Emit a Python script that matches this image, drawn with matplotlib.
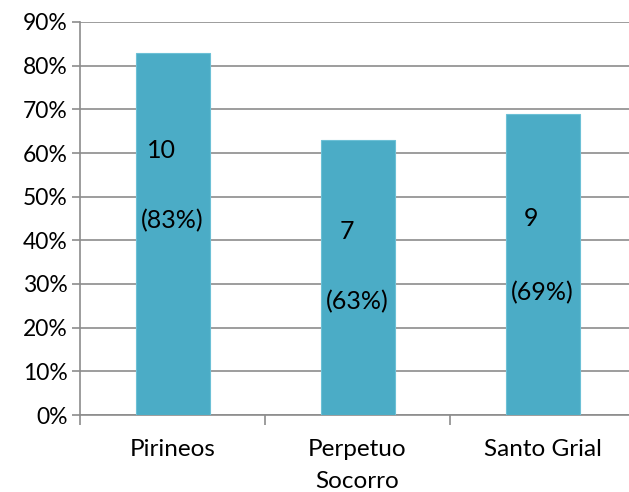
import matplotlib.pyplot as plt
from matplotlib.ticker import PercentFormatter

# datos del grafico
categorias = ['Pirineos', 'Perpetuo\nSocorro', 'Santo Grial']
porcentajes = [83, 63, 69]
cantidades = [10, 7, 9]
# altura (en %) donde va cada etiqueta
etiqueta_num_y = [60.5, 42, 45]
etiqueta_pct_y = [44.5, 26, 28]

plt.rcParams['font.family'] = ['Lato', 'DejaVu Sans']
gris = '#8c8c8c'

fig = plt.figure(figsize=(6.29, 4.92), dpi=100)
ax = fig.add_axes([80 / 629, 77 / 492, 555 / 629, 393 / 492])

x = range(len(categorias))
ax.bar(x, porcentajes, width=0.4, color='#4bacc6', edgecolor='#6cc0d6', linewidth=0.8, zorder=3)

for i in x:
    ax.annotate(str(cantidades[i]), (i, etiqueta_num_y[i]), xytext=(-8, 0), textcoords='offset points',
                ha='center', va='center', fontsize=18, color='black', zorder=4)
    ax.text(i, etiqueta_pct_y[i], f'({porcentajes[i]}%)', ha='center', va='center',
            fontsize=18, color='black', zorder=4)

ax.set_xlim(-0.5, 2.5)
ax.set_ylim(0, 90)
ax.set_yticks(range(0, 91, 10))
ax.yaxis.set_major_formatter(PercentFormatter(decimals=0))
ax.set_xticks(list(x))
ax.set_xticklabels(categorias, linespacing=1.65)
ax.set_xticks([-0.5, 0.5, 1.5, 2.5], minor=True)

ax.grid(axis='y', color=gris, linewidth=1.2, zorder=0)
for s in ['top', 'right']:
    ax.spines[s].set_visible(False)
for s in ['left', 'bottom']:
    ax.spines[s].set_color(gris)
    ax.spines[s].set_linewidth(1.2)

ax.tick_params(axis='y', labelsize=16.5, length=6, width=1.2, color=gris, pad=3)
ax.tick_params(axis='x', which='major', labelsize=17.5, length=0, pad=17)
ax.tick_params(axis='x', which='minor', length=7, width=1.2, color=gris)

fig.savefig('out.png', dpi=100)
